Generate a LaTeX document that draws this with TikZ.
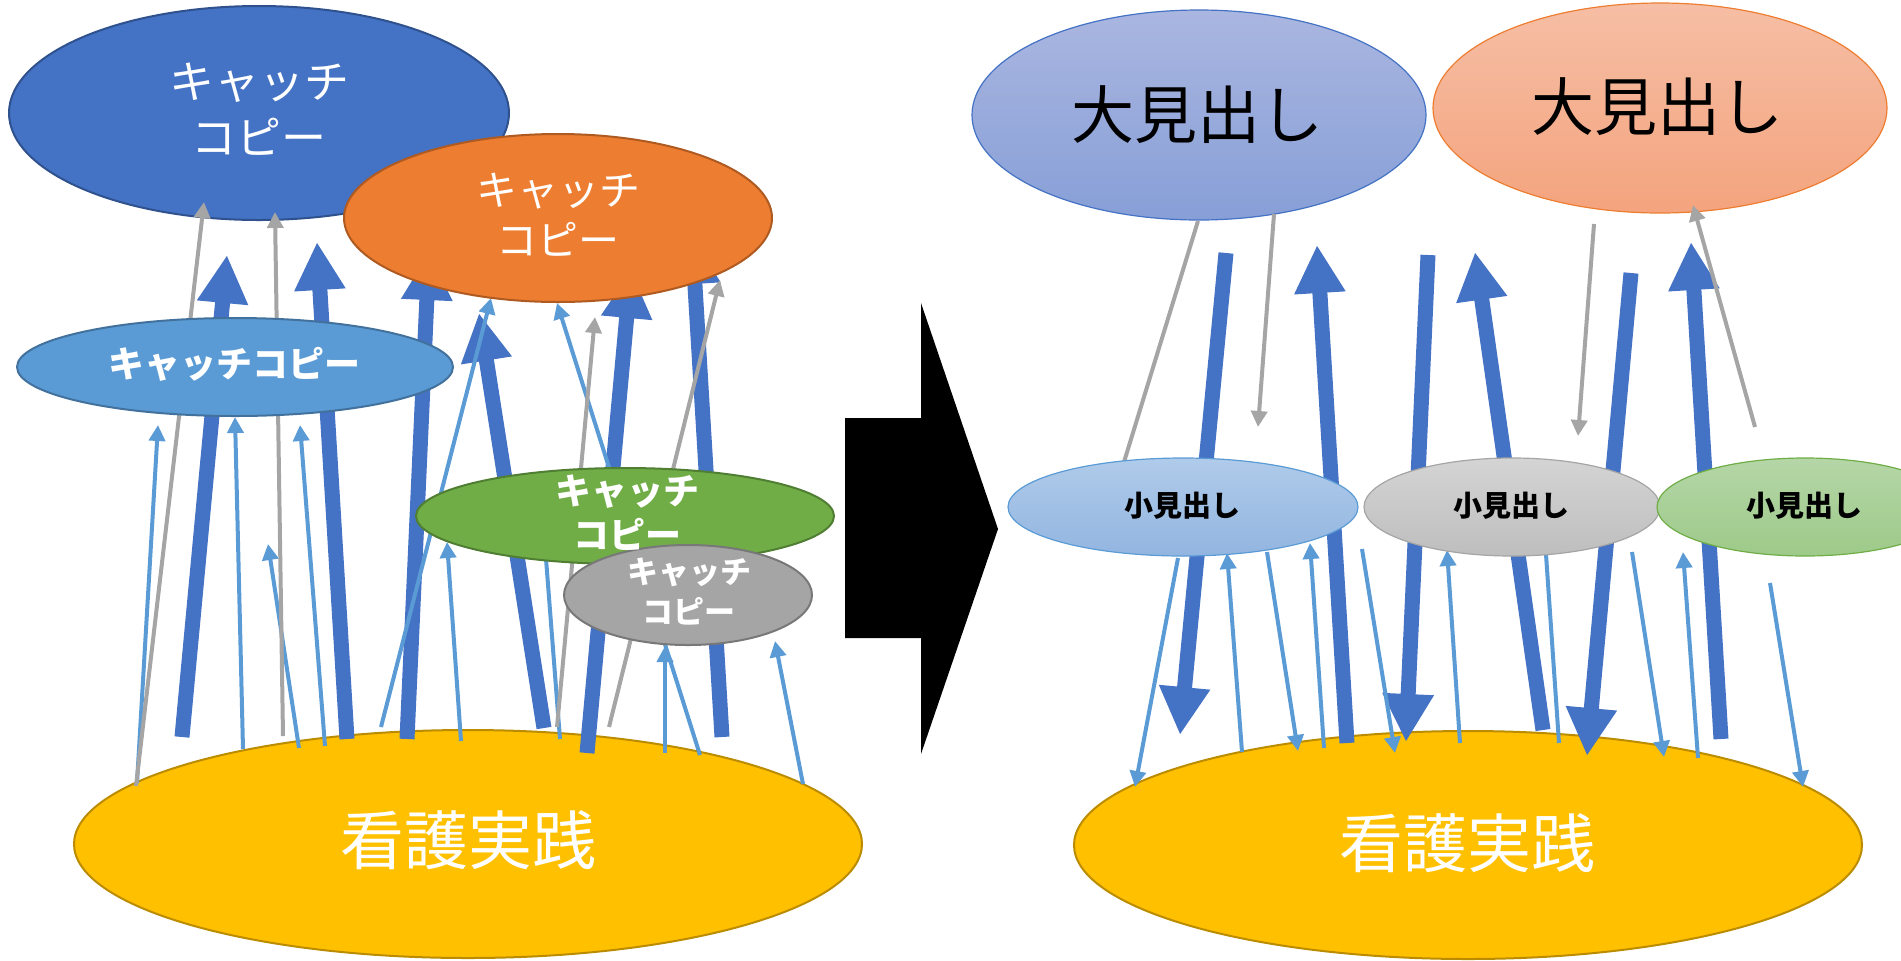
\documentclass[tikz,border=0pt]{standalone}
\usepackage{fontspec}
\setmainfont{Noto Sans CJK JP}
\usetikzlibrary{shapes.geometric,arrows.meta}
\definecolor{thickc}{HTML}{4472C4}
\definecolor{thinc}{HTML}{5B9BD5}
\definecolor{grayc}{HTML}{A5A5A5}
\definecolor{dblueF}{HTML}{4472C4}\definecolor{dblueD}{HTML}{2F528F}
\definecolor{orangeF}{HTML}{ED7D31}\definecolor{orangeD}{HTML}{AE5A21}
\definecolor{lblueF}{HTML}{5B9BD5}\definecolor{lblueD}{HTML}{41719C}
\definecolor{greenF}{HTML}{70AD47}\definecolor{greenD}{HTML}{507E32}
\definecolor{grayF}{HTML}{A5A5A5}\definecolor{grayD}{HTML}{787878}
\definecolor{yellowF}{HTML}{FFC000}\definecolor{yellowD}{HTML}{BC8C00}
\definecolor{gbTop}{HTML}{AAB6E0}\definecolor{gbBot}{HTML}{879FD7}
\definecolor{goTop}{HTML}{F6BEA5}\definecolor{goBot}{HTML}{F4A47E}
\definecolor{sbTop}{HTML}{B0CBEA}\definecolor{sbBot}{HTML}{92B5E0}
\definecolor{sgTop}{HTML}{D4D4D4}\definecolor{sgBot}{HTML}{BEBEBE}
\definecolor{snTop}{HTML}{B5D6A7}\definecolor{snBot}{HTML}{9DCA89}
\tikzset{
  ell/.style={ellipse, inner sep=0pt, line width=1pt},
  gell/.style={ellipse, inner sep=0pt, line width=0.6pt},
  thickarr/.style={draw=thickc, line width=7.5pt, -{Triangle[length=24pt,width=24pt]}},
  thinarr/.style={draw=thinc, line width=2pt, -{Triangle[length=8pt,width=8pt]}},
  thinline/.style={draw=thinc, line width=2pt},
  grayarr/.style={draw=grayc, line width=2pt, -{Triangle[length=8pt,width=8pt]}},
  grayline/.style={draw=grayc, line width=2pt},
  lbl/.style={align=center, inner sep=0pt},
}
\begin{document}
\begin{tikzpicture}[x=0.5pt,y=-0.5pt]
\useasboundingbox (0,0) rectangle (1901,960);

% ---------------- left half ----------------
\node[ell, fill=dblueF, draw=dblueD, minimum width=250pt, minimum height=107pt] (bigL) at (259,113) {};
\node[ell, fill=yellowF, draw=yellowD, minimum width=394pt, minimum height=114pt] (yelL) at (468,844) {};

% thick arrows
\draw[thickarr] (182,737) -- (227,255);
\draw[thickarr] (347,739) -- (317,242);
\draw[thickarr] (407,739) -- (429,252);
\draw[thickarr] (544,728) -- (479,313);
\draw[thickarr] (587,753) -- (631,270);
\draw[thickarr] (722,737) -- (692,236);
% thin blue arrows
\draw[thinarr] (137,783) -- (158,425);
\draw[thinarr] (243,749) -- (235,417);
\draw[thinarr] (299,748) -- (268,544);
\draw[thinarr] (325,746) -- (300,425);
\draw[thinarr] (381,727) -- (491,298);
\draw[thinarr] (461,741) -- (447,542);
\draw[thinarr] (700,755) -- (557,303);
\draw[thinarr] (560,739) -- (543,520);
\draw[thinarr] (665,753) -- (665,646);
\draw[thinarr] (803,784) -- (775,641);
% gray arrows
\draw[grayarr] (136,786) -- (204,202);
\draw[grayarr] (283,736) -- (275,212);
\draw[grayarr] (557,727) -- (595,317);
\draw[grayarr] (609,727) -- (720,280);

\node[ell, fill=orangeF, draw=orangeD, minimum width=214pt, minimum height=84pt] (oraL) at (558,218) {};
\node[ell, fill=lblueF, draw=lblueD, minimum width=218pt, minimum height=49pt] (lbL) at (235,367) {};
\node[ell, fill=greenF, draw=greenD, minimum width=209pt, minimum height=48pt] (grnL) at (625,516) {};
\node[ell, fill=grayF, draw=grayD, minimum width=124pt, minimum height=50pt] (gryL) at (688,595) {};

\node[lbl, text=white, font=\fontsize{22.5pt}{28pt}\selectfont] (bigLt) at (259,109) {キャッチ\\コピー};
\node[lbl, text=white, font=\fontsize{20.5pt}{25pt}\selectfont] (oraLt) at (558,215) {キャッチ\\コピー};
\node[lbl, text=white, font=\fontsize{18pt}{22pt}\selectfont\bfseries] (lbLt) at (234,364) {キャッチコピー};
\node[lbl, text=white, font=\fontsize{18pt}{22pt}\selectfont\bfseries] (grnLt) at (627,513) {キャッチ\\コピー};
\node[lbl, text=white, font=\fontsize{15.5pt}{20pt}\selectfont\bfseries] (gryLt) at (689,592) {キャッチ\\コピー};
\node[lbl, text=white, font=\fontsize{32pt}{36pt}\selectfont] (yelLt) at (468,840) {看護実践};

% ---------------- big black arrow ----------------
\fill[black] (845,418) -- (921,418) -- (921,303) -- (998,529) -- (921,754) -- (921,638) -- (845,638) -- cycle;

% ---------------- right half ----------------
\node[gell, top color=gbTop, bottom color=gbBot, draw=thickc, minimum width=227pt, minimum height=105pt] (bigR1) at (1199,115) {};
\node[gell, top color=goTop, bottom color=goBot, draw=orangeF, minimum width=227pt, minimum height=105pt] (bigR2) at (1660,108) {};
\node[ell, fill=yellowF, draw=yellowD, minimum width=394pt, minimum height=114pt] (yelR) at (1468,845) {};

\draw[thickarr] (1226,253) -- (1180,735);
\draw[thickarr] (1347,743) -- (1317,245);
\draw[thickarr] (1428,255) -- (1406,742);
\draw[thickarr] (1543,730) -- (1475,252);
\draw[thickarr] (1631,273) -- (1587,756);
\draw[thickarr] (1721,739) -- (1691,242);

\draw[grayline] (1198,221) -- (1124,462);
\draw[grayarr] (1274,214) -- (1258,427);
\draw[grayarr] (1594,224) -- (1578,436);
\draw[grayarr] (1755,427) -- (1693,205);

\draw[thinarr] (1178,558) -- (1135,787);
\draw[thinarr] (1242,752) -- (1227,553);
\draw[thinarr] (1267,552) -- (1298,751);
\draw[thinarr] (1324,748) -- (1310,543);
\draw[thinarr] (1362,549) -- (1395,753);
\draw[thinarr] (1460,743) -- (1447,550);
\draw[thinline] (1559,743) -- (1545,540);
\draw[thinarr] (1632,552) -- (1664,757);
\draw[thinarr] (1698,758) -- (1683,552);
\draw[thinarr] (1770,583) -- (1803,787);

\node[gell, top color=sbTop, bottom color=sbBot, draw=lblueF, minimum width=175pt, minimum height=49pt] (smR1) at (1183,507) {};
\node[gell, top color=sgTop, bottom color=sgBot, draw=grayF, minimum width=148pt, minimum height=49pt] (smR2) at (1512,507) {};
\node[gell, top color=snTop, bottom color=snBot, draw=greenF, minimum width=148pt, minimum height=49pt] (smR3) at (1805,507) {};

\node[lbl, font=\fontsize{31.5pt}{36pt}\selectfont] (bigR1t) at (1197,115) {大見出し};
\node[lbl, font=\fontsize{31.5pt}{36pt}\selectfont] (bigR2t) at (1657,107) {大見出し};
\node[lbl, font=\fontsize{14.5pt}{18pt}\selectfont\bfseries] (smR1t) at (1182,506) {小見出し};
\node[lbl, font=\fontsize{14.5pt}{18pt}\selectfont\bfseries] (smR2t) at (1511,506) {小見出し};
\node[lbl, font=\fontsize{14.5pt}{18pt}\selectfont\bfseries] (smR3t) at (1804,506) {小見出し};
\node[lbl, text=white, font=\fontsize{32pt}{36pt}\selectfont] (yelRt) at (1467,843) {看護実践};
\end{tikzpicture}
\end{document}
